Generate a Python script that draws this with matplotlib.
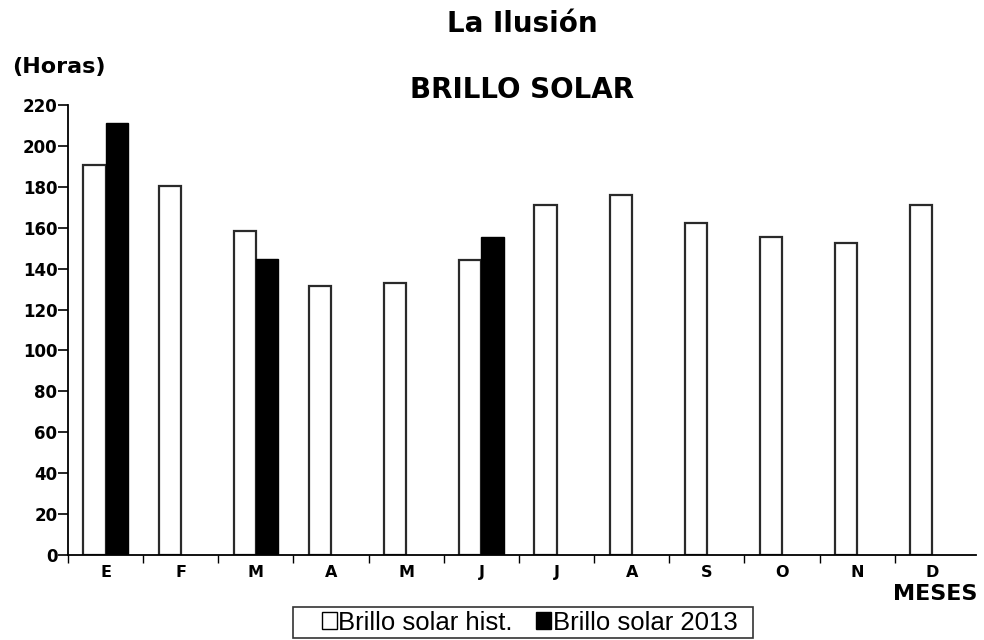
import matplotlib
matplotlib.use("Agg")
import matplotlib.pyplot as plt
import numpy as np
from matplotlib.patches import Patch, Rectangle

months = ["E", "F", "M", "A", "M", "J", "J", "A", "S", "O", "N", "D"]
hist = [190.5, 180.5, 158.5, 131.5, 133, 144, 171, 176, 162.5, 155.5, 152.5, 171]
y2013 = [211, None, 144.5, None, None, 155.5, None, None, None, None, None, None]
yticks = list(range(0, 221, 20))

plt.rcParams['font.family'] = ['DejaVu Sans']

fig = plt.figure(figsize=(9.84, 6.4), dpi=100)
ax = fig.add_axes([68/984, 1-555/640, (976-68)/984, 450/640])

x = np.arange(len(months))
w = 0.295
ax.bar(x + 0.5 - w, hist, width=w, align='edge', facecolor='white', edgecolor='#2a2a2a', linewidth=1.6)
xs = [xi for xi, v in zip(x, y2013) if v is not None]
vs = [v for v in y2013 if v is not None]
ax.bar(np.array(xs) + 0.5, vs, width=w, align='edge', facecolor='black', edgecolor='black', linewidth=1.0)

ax.set_xlim(0, 12.08)
ax.set_ylim(0, 220)
ax.spines['top'].set_visible(False)
ax.spines['right'].set_visible(False)
for s in ['left', 'bottom']:
    ax.spines[s].set_linewidth(1.3)
ax.set_yticks(yticks)
ax.set_yticklabels([str(t) for t in yticks], fontsize=12, fontweight='bold')
ax.tick_params(axis='y', direction='out', length=7, width=1.2, pad=0.6)
ax.set_xticks(np.arange(0, 12))
ax.set_xticklabels([])
ax.tick_params(axis='x', which='major', direction='out', length=5.5, width=1.0)
ax.set_xticks(x + 0.5, minor=True)
ax.set_xticklabels(months, minor=True, fontsize=11.5, fontweight='bold')
ax.tick_params(axis='x', which='minor', length=0, pad=7)

fig.text(522/984, 1-31.7/640, "La Ilusión", ha='center', va='baseline', fontsize=20, fontweight='bold')
fig.text(522.5/984, 1-97.7/640, "BRILLO SOLAR", ha='center', va='baseline', fontsize=20, fontweight='bold')
fig.text(12/984, 1-72.7/640, "(Horas)", ha='left', va='baseline', fontsize=16, fontweight='bold')
fig.text(977/984, 1-600/640, "MESES", ha='right', va='baseline', fontsize=16, fontweight='bold')

# legend box
fig.patches.append(Rectangle((293/984, 1-638/640), (753-293)/984, 31/640, transform=fig.transFigure,
                             facecolor='white', edgecolor='#333333', linewidth=1.2, zorder=2))
handles = [Patch(facecolor='white', edgecolor='black', linewidth=1.0, label='Brillo solar hist.'),
           Patch(facecolor='black', edgecolor='black', label='Brillo solar 2013')]
leg = fig.legend(handles=handles, loc='center', bbox_to_anchor=(529.5/984, 1-622.5/640), ncol=2,
                 frameon=False, prop={'family': 'Liberation Sans', 'size': 18.5},
                 handlelength=0.6, handleheight=0.66, handletextpad=0.05, columnspacing=0.9,
                 borderpad=0.1, borderaxespad=0)
leg.set_zorder(3)

fig.savefig("out.png", dpi=100)
